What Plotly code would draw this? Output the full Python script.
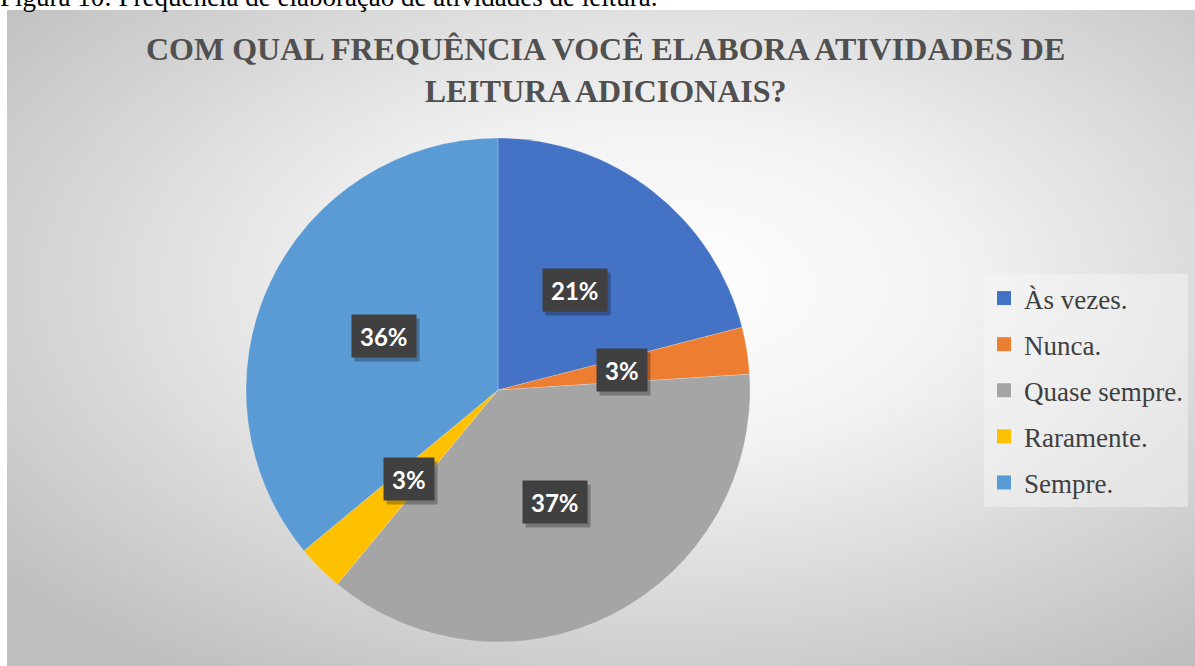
import math
import base64
import plotly.graph_objects as go

# ---- data ----
categories = ["Às vezes.", "Nunca.", "Quase sempre.", "Raramente.", "Sempre."]
values = [21, 3, 37, 3, 36]
colors = ["#4472C4", "#ED7D31", "#A5A5A5", "#FFC000", "#5B9BD5"]
title_text = "COM QUAL FREQUÊNCIA VOCÊ ELABORA ATIVIDADES DE<br>LEITURA ADICIONAIS?"
caption_text = "Figura 10: Frequência de elaboração de atividades de leitura."

# ---- layout constants ----
W, H = 1195, 666
CX, CY, R = 498, 390, 252
AX0, AY0 = 7, 10  # chart area top-left

fig = go.Figure()

fig.add_trace(go.Pie(
    labels=categories, values=values, sort=False, direction="clockwise", rotation=0,
    marker=dict(colors=colors, line=dict(width=0.5, color="rgba(255,255,255,0.4)")),
    textinfo="none", hoverinfo="label+percent", showlegend=False,
    domain=dict(x=[(CX - R) / W, (CX + R) / W], y=[1 - (CY + R) / H, 1 - (CY - R) / H]),
))

# legend entries
for c, col in zip(categories, colors):
    fig.add_trace(go.Scatter(
        x=[None], y=[None], mode="markers", name=c, legendgroup=c,
        marker=dict(symbol="square", size=14, color=col),
    ))

# background gradient
aw, ah = W - AX0, H - AY0
svg = (
    f'<svg xmlns="http://www.w3.org/2000/svg" width="{aw}" height="{ah}" viewBox="0 0 {aw} {ah}" preserveAspectRatio="none">'
    '<defs><radialGradient id="g" cx="0.55" cy="0.42" r="0.72">'
    '<stop offset="0" stop-color="#ffffff"/><stop offset="0.35" stop-color="#f2f2f2"/><stop offset="1" stop-color="#bebebe"/>'
    '</radialGradient></defs>'
    f'<rect width="{aw}" height="{ah}" fill="url(#g)"/></svg>'
)
src = "data:image/svg+xml;base64," + base64.b64encode(svg.encode("utf-8")).decode("ascii")

annotations = []
# data labels
total = sum(values)
cum = 0
for v in values:
    mid = (cum + v / 2) / total * 2 * math.pi
    cum += v
    px = CX + 0.5 * R * math.sin(mid)
    py = CY - 0.5 * R * math.cos(mid)
    txt = f"{round(v / total * 100)}%"
    common = dict(x=px / W, y=1 - py / H, xref="paper", yref="paper", text=txt,
                  xanchor="center", yanchor="middle",
                  showarrow=False, borderpad=8, height=26)
    shadow = dict(common)
    shadow.update(bgcolor="rgba(0,0,0,0.28)", xshift=3, yshift=-4,
                  font=dict(family="Lato", size=24, weight="bold", color="rgba(0,0,0,0)"))
    annotations.append(shadow)
    lab = dict(common)
    lab.update(bgcolor="#404040", font=dict(family="Lato", size=24, weight="bold", color="#ffffff"))
    annotations.append(lab)

# title
annotations.append(dict(
    x=606 / W, y=1 - 29 / H, xref="paper", yref="paper", xanchor="center", yanchor="top",
    text=title_text, showarrow=False,
    font=dict(family="Liberation Serif", size=32, color="#505050", weight="bold"),
))
# caption (cropped at top)
annotations.append(dict(
    x=0, y=1, xref="paper", yref="paper", xanchor="left", yanchor="bottom", yshift=-14, xshift=-2,
    text=caption_text, showarrow=False,
    font=dict(family="Liberation Serif", size=27, color="#000000"),
))

fig.update_layout(
    width=W, height=H, autosize=False,
    margin=dict(l=0, r=0, t=0, b=0),
    paper_bgcolor="#ffffff", plot_bgcolor="rgba(0,0,0,0)",
    xaxis=dict(visible=False), yaxis=dict(visible=False),
    images=[dict(source=src, xref="paper", yref="paper", x=AX0 / W, y=1 - AY0 / H,
                 sizex=aw / W, sizey=ah / H, sizing="stretch", layer="below",
                 xanchor="left", yanchor="top")],
    annotations=annotations,
    legend=dict(x=984 / W, y=1 - 274 / H, xanchor="left", yanchor="top",
                font=dict(family="Liberation Serif", size=27, color="#404040"),
                bgcolor="rgba(248,248,248,0.45)", tracegroupgap=8, itemwidth=30),
    showlegend=True,
)

fig.write_html("out.html", config={"displayModeBar": False},
               post_script="document.body.style.margin='0px';")
